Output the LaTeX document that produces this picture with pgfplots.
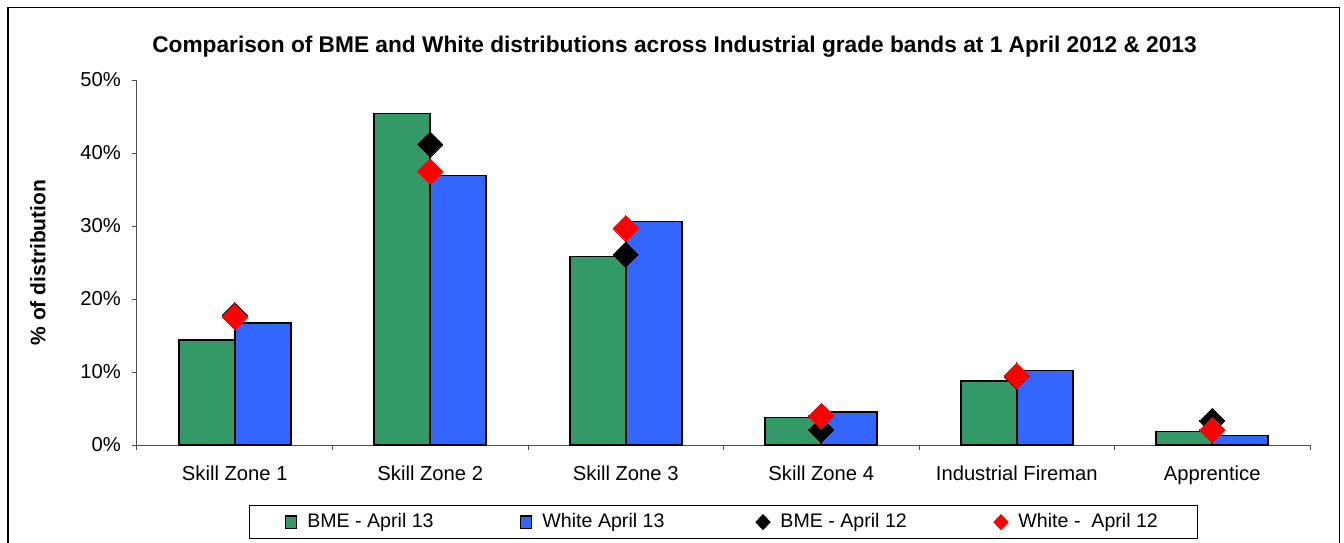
\documentclass[border=0pt]{standalone}
\usepackage{pgfplots}
\pgfplotsset{compat=1.18}
\usepackage{fontspec}
\setmainfont{Liberation Sans}
\definecolor{bmegreen}{RGB}{51,153,102}
\definecolor{whiteblue}{RGB}{51,102,255}
\begin{document}
\begin{tikzpicture}
\useasboundingbox (0pt,0pt) rectangle (672pt,-271pt);
\draw[line width=0.7pt] (4pt,-272pt) -- (4pt,-3.6pt) -- (669.8pt,-3.6pt) -- (669.8pt,-272pt);
\begin{axis}[
  at={(68.5pt,-222.5pt)}, anchor=south west,
  scale only axis, width=586.5pt, height=182.5pt,
  xmin=-0.5, xmax=5.5, ymin=0, ymax=50,
  axis x line*=bottom, axis y line*=left,
  axis line style={black!70, line width=0.5pt},
  xtick={0,1,2,3,4,5},
  xticklabels={Skill Zone 1,Skill Zone 2,Skill Zone 3,Skill Zone 4,Industrial Fireman,Apprentice},
  minor xtick={-0.5,0.5,1.5,2.5,3.5,4.5,5.5},
  major x tick style={draw=none},
  minor tick length=2.6pt,
  minor x tick style={black!70, line width=0.5pt},
  xtick align=outside, ytick align=outside,
  ytick={0,10,20,30,40,50},
  major tick length=2.6pt,
  y tick style={black!70, line width=0.5pt},
  yticklabel={\pgfmathprintnumber{\tick}\%},
  /pgf/number format/assume math mode=true,
  ticklabel style={font=\fontsize{10.1}{12}\selectfont, text=black},
  xticklabel style={yshift=-4.5pt},
  yticklabel style={xshift=-2pt},
  ylabel={\% of distribution},
  ylabel style={at={(axis description cs:-0.0845,0.5)}, anchor=center, font=\bfseries\fontsize{10.5}{12}\selectfont},
  title={Comparison of BME and White distributions across Industrial grade bands at 1 April 2012 \& 2013},
  title style={at={(axis description cs:0.5,1)}, anchor=center, yshift=10.5pt, xshift=-24.5pt, font=\bfseries\fontsize{11.35}{13}\selectfont},
  legend columns=4,
  legend style={at={(axis description cs:0.5,-0.1644)}, anchor=north, draw=black, line width=0.5pt,
    font=\fontsize{9.8}{11.5}\selectfont, inner xsep=18pt, inner ysep=2pt,
    /tikz/every odd column/.append style={column sep=3pt},
    /tikz/every even column/.append style={column sep=0pt}},
  clip=false,
]
\addplot[ybar, bar width=28pt, bar shift=-14pt, fill=bmegreen, draw=black, line width=0.8pt,
  legend image code/.code={\draw[fill=bmegreen, draw=black, line width=0.6pt] (0pt,-3.1pt) rectangle (5.5pt,3.1pt);}]
  coordinates {(0,14.4) (1,45.4) (2,25.8) (3,3.75) (4,8.8) (5,1.83)};
\addlegendentry{\makebox[104.5pt][l]{BME - April 13}}
\addplot[ybar, bar width=28pt, bar shift=14pt, fill=whiteblue, draw=black, line width=0.8pt,
  legend image code/.code={\draw[fill=whiteblue, draw=black, line width=0.6pt] (0pt,-3.1pt) rectangle (5.5pt,3.1pt);}]
  coordinates {(0,16.7) (1,36.9) (2,30.6) (3,4.5) (4,10.2) (5,1.28)};
\addlegendentry{\makebox[104.5pt][l]{White April 13}}
\addplot[only marks, mark=square*, mark size=4.5pt, mark options={rotate=45, fill=black, draw=black, line width=0pt},
  legend image code/.code={\fill[black] (0pt,0pt) -- (3.5pt,3.7pt) -- (7pt,0pt) -- (3.5pt,-3.7pt) -- cycle;}]
  coordinates {(0,17.8) (1,41.2) (2,26.1) (3,2.06) (4,9.4) (5,3.3)};
\addlegendentry{\makebox[104.5pt][l]{BME - April 12}}
\addplot[only marks, mark=square*, mark size=4.5pt, mark options={rotate=45, fill=red, draw=red, line width=0pt},
  legend image code/.code={\fill[red] (0pt,0pt) -- (3.5pt,3.7pt) -- (7pt,0pt) -- (3.5pt,-3.7pt) -- cycle;}]
  coordinates {(0,17.6) (1,37.5) (2,29.7) (3,4.0) (4,9.5) (5,2.06)};
\addlegendentry{White -~ April 12}
\end{axis}
\end{tikzpicture}
\end{document}
